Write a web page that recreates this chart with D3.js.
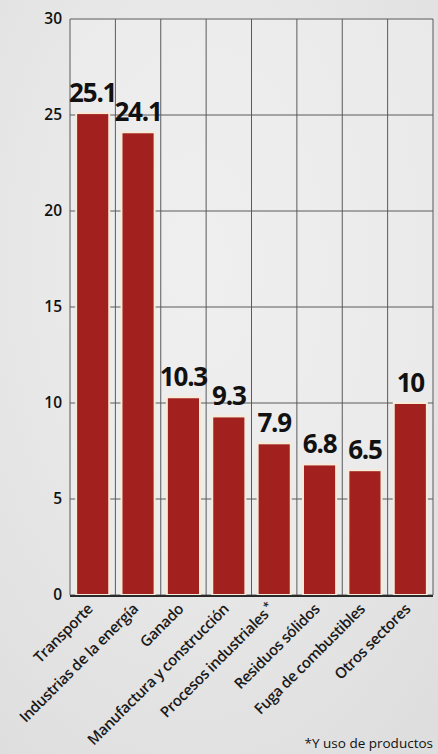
<!DOCTYPE html>
<html><head><meta charset="utf-8">
<script src="https://cdn.jsdelivr.net/npm/d3@7"></script>
<style>
html,body{margin:0;padding:0;background:#e4e4e4;}
svg{display:block;}
</style></head>
<body>
<svg id="chart" width="438" height="754"></svg>
<script>
const categories = ["Transporte","Industrias de la energía","Ganado","Manufactura y construcción","Procesos industriales","Residuos sólidos","Fuga de combustibles","Otros sectores"];
const values = [25.1, 24.1, 10.3, 9.3, 7.9, 6.8, 6.5, 10];
const valueLabels = ["25.1","24.1","10.3","9.3","7.9","6.8","6.5","10"];
const yTicks = [0,5,10,15,20,25,30];
const footnote = "*Y uso de productos";

(function(){
const svg = d3.select("#chart");
const W = 438, H = 754;
const mLeft = 70, mRight = 433, mTop = 19, mBottom = 595;

const defs = svg.append("defs");
const rg = defs.append("radialGradient").attr("id","bg").attr("cx","0.45").attr("cy","0.35").attr("r","0.8");
rg.append("stop").attr("offset","0").attr("stop-color","#f0f0f0");
rg.append("stop").attr("offset","1").attr("stop-color","#dedede");
svg.append("rect").attr("width",W).attr("height",H).attr("fill","url(#bg)");
svg.append("rect").attr("x",mLeft).attr("y",mTop).attr("width",mRight-mLeft).attr("height",mBottom-mTop).attr("fill","#eeeeee").attr("opacity",0.6);

const x = d3.scaleBand().domain(categories).range([mLeft,mRight]).paddingInner(0.27).paddingOuter(0.135);
const y = d3.scaleLinear().domain([0,30]).range([mBottom,mTop]);

svg.append("g").selectAll("line").data(yTicks).join("line")
  .attr("x1",mLeft).attr("x2",mRight).attr("y1",d=>y(d)).attr("y2",d=>y(d))
  .attr("stroke","#5a5a5a").attr("stroke-width",1);
const step = x.step();
svg.append("g").selectAll("line").data(d3.range(categories.length+1)).join("line")
  .attr("x1",i=>mLeft+i*step).attr("x2",i=>mLeft+i*step).attr("y1",mTop).attr("y2",mBottom)
  .attr("stroke","#5a5a5a").attr("stroke-width",1);

const yAxis = d3.axisLeft(y).tickValues(yTicks).tickSize(0).tickPadding(8);
const ga = svg.append("g").attr("transform",`translate(${mLeft},0)`).call(yAxis);
ga.select(".domain").remove();
ga.selectAll("text").attr("font-family","Open Sans").attr("font-weight",600).attr("font-size",15.5).attr("fill","#111");

svg.append("g").selectAll("rect").data(values).join("rect")
  .attr("x",(d,i)=>x(categories[i]))
  .attr("y",d=>y(d))
  .attr("width",x.bandwidth())
  .attr("height",d=>y(0)-y(d))
  .attr("fill","#a2211f")
  .attr("stroke","#f6ead8").attr("stroke-width",2);

svg.append("line").attr("x1",mLeft).attr("x2",mRight).attr("y1",mBottom+1).attr("y2",mBottom+1)
  .attr("stroke","#2a2a2a").attr("stroke-width",2);

svg.append("g").selectAll("text").data(values).join("text")
  .attr("x",(d,i)=>x(categories[i])+x.bandwidth()/2)
  .attr("y",d=>y(d)-11)
  .attr("text-anchor","middle")
  .attr("font-family","Open Sans").attr("font-weight",700).attr("font-size",26)
  .attr("letter-spacing",-1.2)
  .attr("fill","#111")
  .text((d,i)=>valueLabels[i]);

const xl = svg.append("g").selectAll("text").data(categories).join("text")
  .attr("transform",d=>`translate(${x(d)+x.bandwidth()/2+1},${mBottom+15}) rotate(-45)`)
  .attr("text-anchor","end")
  .attr("font-family","Open Sans").attr("font-weight",600).attr("font-size",15)
  .attr("letter-spacing",-0.4)
  .attr("fill","#1a1a1a");
xl.each(function(d){
  const t = d3.select(this);
  t.append("tspan").text(d);
  if (d === "Procesos industriales") {
    t.append("tspan").attr("dy",-5).attr("font-size",11).text(" *");
  }
});

svg.append("text").attr("x",433).attr("y",748).attr("text-anchor","end")
  .attr("font-family","Open Sans").attr("font-weight",400).attr("font-size",13.5)
  .attr("fill","#111").text(footnote);
})();
</script>
</body></html>
